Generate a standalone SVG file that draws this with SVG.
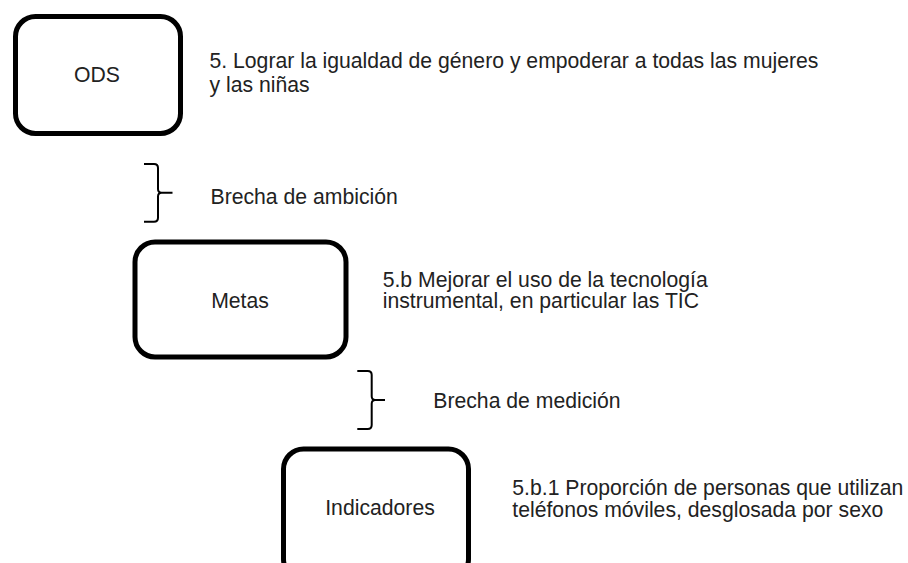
<svg xmlns="http://www.w3.org/2000/svg" width="908" height="563" viewBox="0 0 908 563">
  <style>
    .box { fill: #ffffff; stroke: #000000; stroke-width: 5; }
    .lbl { font-family: "Liberation Sans", Arial, sans-serif; font-size: 21.2px; fill: #222222; }
    .mid { text-anchor: middle; }
    .brace { fill: none; stroke: #000000; stroke-width: 2; stroke-linejoin: round; }
  </style>
  <rect width="908" height="563" fill="#ffffff"/>
  <g id="node-ods">
    <rect class="box" x="15.5" y="16.5" width="165" height="117" rx="20" ry="20"/>
    <text class="lbl mid" x="97" y="82">ODS</text>
  </g>
  <g id="desc-ods">
    <text class="lbl" x="209.5" y="67.5">5. Lograr la igualdad de género y empoderar a todas las mujeres</text>
    <text class="lbl" x="209.5" y="91.5">y las niñas</text>
  </g>
  <g id="node-metas">
    <rect class="box" x="135" y="242" width="211" height="115" rx="20" ry="20"/>
    <text class="lbl mid" x="240" y="308">Metas</text>
  </g>
  <g id="desc-metas">
    <text class="lbl" x="382.7" y="286.5">5.b Mejorar el uso de la tecnología</text>
    <text class="lbl" x="382.7" y="307.5">instrumental, en particular las TIC</text>
  </g>
  <g id="node-indicadores">
    <rect class="box" x="283.5" y="449" width="185" height="130" rx="20" ry="20"/>
    <text class="lbl mid" x="380" y="515">Indicadores</text>
  </g>
  <g id="desc-indicadores">
    <text class="lbl" x="512.3" y="495">5.b.1 Proporción de personas que utilizan</text>
    <text class="lbl" x="512.3" y="516.5">teléfonos móviles, desglosada por sexo</text>
  </g>
  <g id="connectors">
    <path class="brace" d="M144,164 H154 Q158,164 158,168 V189 Q158,192.7 161.5,192.7 H172.5 M161.5,192.7 Q158,192.7 158,196.5 V217.7 Q158,221.7 154,221.7 H144"/>
    <text class="lbl" x="210.5" y="204">Brecha de ambición</text>
    <path class="brace" d="M357.3,371 H367.7 Q371.7,371 371.7,375 V396.3 Q371.7,400 375.2,400 H385 M375.2,400 Q371.7,400 371.7,403.7 V425 Q371.7,429 367.7,429 H357.3"/>
    <text class="lbl" x="433.3" y="408.3">Brecha de medición</text>
  </g>
</svg>
